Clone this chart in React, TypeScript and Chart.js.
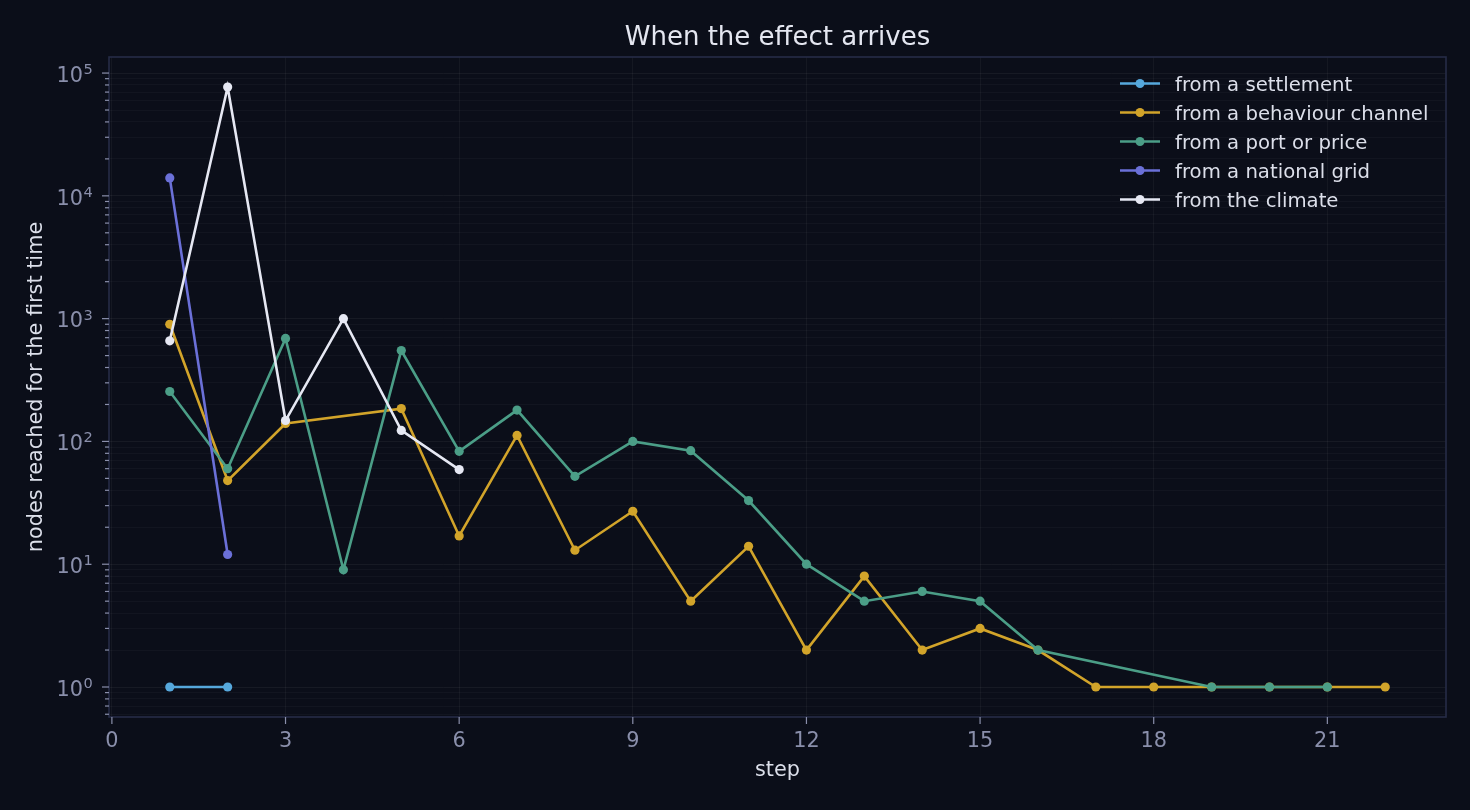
import { useEffect, useRef } from "react";
import { Chart, registerables } from "chart.js";

Chart.register(...registerables);

// series, in draw order (later ones sit on top)
const seriesNames = [
  "from a settlement",
  "from a behaviour channel",
  "from a port or price",
  "from a national grid",
  "from the climate",
];

const settlementSteps = [1, 2];
const settlementNodes = [1, 1];

const behaviourSteps = [1, 2, 3, 5, 6, 7, 8, 9, 10, 11, 12, 13, 14, 15, 16, 17, 18, 19, 20, 21, 22];
const behaviourNodes = [900, 48, 140, 185, 17, 112, 13, 27, 5, 14, 2, 8, 2, 3, 2, 1, 1, 1, 1, 1, 1];

const portSteps = [1, 2, 3, 4, 5, 6, 7, 8, 9, 10, 11, 12, 13, 14, 15, 16, 19, 20, 21];
const portNodes = [255, 60, 690, 9, 550, 83, 180, 52, 100, 84, 33, 10, 5, 6, 5, 2, 1, 1, 1];

const gridSteps = [1, 2];
const gridNodes = [14000, 12];

const climateSteps = [1, 2, 3, 4, 5, 6];
const climateNodes = [660, 77000, 148, 1000, 123, 59];

const xTicks = [0, 3, 6, 9, 12, 15, 18, 21];
const decades = [-1, 0, 1, 2, 3, 4, 5];

const seriesColors = ["#56a8dc", "#d2a42a", "#4b9e87", "#6b70d8", "#e6e8f3"];

const BG = "#0b0e19";
const TICK_COLOR = "#8a8fab";
const LABEL_COLOR = "#dcdfea";
const SPINE_COLOR = "#262c47";
const FONT = "'DejaVu Sans', sans-serif";

function isDecade(v: number) {
  const l = Math.log10(v);
  return Math.abs(l - Math.round(l)) < 1e-9;
}

function toPoints(xs: number[], ys: number[]) {
  return xs.map((x, i) => ({ x, y: ys[i] }));
}

const allSteps = [settlementSteps, behaviourSteps, portSteps, gridSteps, climateSteps];
const allNodes = [settlementNodes, behaviourNodes, portNodes, gridNodes, climateNodes];

// title centred over the plot, legend top-right, frame, tick marks and 10^n labels
const decorations = {
  id: "decorations",
  afterDatasetsDraw(chart: any) {
    const { ctx, chartArea, scales } = chart;
    ctx.save();

    ctx.strokeStyle = SPINE_COLOR;
    ctx.lineWidth = 1.6;
    ctx.strokeRect(chartArea.left, chartArea.top, chartArea.right - chartArea.left, chartArea.bottom - chartArea.top);

    ctx.strokeStyle = TICK_COLOR;
    ctx.lineWidth = 1.2;
    ctx.fillStyle = TICK_COLOR;
    scales.y.ticks.forEach((t: any) => {
      const py = scales.y.getPixelForValue(t.value);
      if (py < chartArea.top - 0.5 || py > chartArea.bottom + 0.5) return;
      const major = isDecade(t.value);
      const len = major ? 7 : 4;
      ctx.beginPath();
      ctx.moveTo(chartArea.left - len, py);
      ctx.lineTo(chartArea.left, py);
      ctx.stroke();
      if (major) {
        const exp = String(Math.round(Math.log10(t.value)));
        const expX = chartArea.left - 25.5;
        ctx.textBaseline = "alphabetic";
        ctx.textAlign = "right";
        ctx.font = `20.8px ${FONT}`;
        ctx.fillText("10", expX - 0.5, py + 8.7);
        ctx.textAlign = "left";
        ctx.font = `14.6px ${FONT}`;
        ctx.fillText(exp, expX, py + 1);
      }
    });
    scales.x.ticks.forEach((t: any) => {
      const px = scales.x.getPixelForValue(t.value);
      ctx.beginPath();
      ctx.moveTo(px, chartArea.bottom);
      ctx.lineTo(px, chartArea.bottom + 7);
      ctx.stroke();
    });

    ctx.fillStyle = "#e4e6f0";
    ctx.font = `26px ${FONT}`;
    ctx.textAlign = "center";
    ctx.textBaseline = "alphabetic";
    ctx.fillText("When the effect arrives", (chartArea.left + chartArea.right) / 2, 45);

    const x0 = chartArea.right - 326;
    ctx.font = `19.7px ${FONT}`;
    ctx.textAlign = "left";
    chart.data.datasets.forEach((ds: any, i: number) => {
      const y = chartArea.top + 26.5 + i * 29;
      ctx.strokeStyle = ds.borderColor;
      ctx.lineWidth = 2.6;
      ctx.beginPath();
      ctx.moveTo(x0, y);
      ctx.lineTo(x0 + 40, y);
      ctx.stroke();
      ctx.fillStyle = ds.borderColor;
      ctx.beginPath();
      ctx.arc(x0 + 20, y, 4.5, 0, Math.PI * 2);
      ctx.fill();
      ctx.fillStyle = LABEL_COLOR;
      ctx.fillText(ds.label, x0 + 55, y + 7.5);
    });

    ctx.restore();
  },
};

export default function App() {
  const canvasRef = useRef<HTMLCanvasElement>(null);
  const chartRef = useRef<Chart | null>(null);

  useEffect(() => {
    document.body.style.margin = "0";
    document.body.style.background = BG;
    if (!canvasRef.current) return;
    if (chartRef.current) chartRef.current.destroy();

    const datasets = seriesNames.map((name, i) => ({
      label: name,
      data: toPoints(allSteps[i], allNodes[i]),
      borderColor: seriesColors[i],
      backgroundColor: seriesColors[i],
      showLine: true,
      borderWidth: 2.6,
      pointRadius: 4.6,
      pointBorderWidth: 0,
      pointHoverRadius: 4.6,
      tension: 0,
      order: seriesNames.length - i,
    }));

    const logMax = Math.log10(Math.max(...allNodes.flat()));
    const logMin = 0;
    const pad = (logMax - logMin) * 0.05;

    chartRef.current = new Chart(canvasRef.current, {
      type: "scatter",
      data: { datasets },
      plugins: [decorations],
      options: {
        responsive: false,
        animation: false,
        devicePixelRatio: 1,
        layout: { padding: { top: 57, right: 24, left: 0, bottom: 0 } },
        plugins: {
          legend: { display: false },
          title: { display: false },
          tooltip: { enabled: false },
        },
        scales: {
          x: {
            type: "linear",
            min: -0.05,
            max: 23.05,
            afterBuildTicks: (scale: any) => {
              scale.ticks = xTicks.map((v) => ({ value: v }));
            },
            afterFit: (scale: any) => {
              scale.height = 93;
            },
            ticks: {
              color: TICK_COLOR,
              padding: 12,
              font: { family: FONT, size: 20.8 },
              callback: (v: any) => String(v),
            },
            grid: {
              color: "rgba(255,255,255,0.045)",
              lineWidth: 1,
              drawTicks: false,
            },
            border: { display: false },
            title: {
              display: true,
              text: "step",
              color: LABEL_COLOR,
              font: { family: FONT, size: 20.8 },
              padding: { top: 0, bottom: 26.5 },
            },
          },
          y: {
            type: "logarithmic",
            min: Math.pow(10, logMin - pad),
            max: Math.pow(10, logMax + pad),
            afterBuildTicks: (scale: any) => {
              const ticks: { value: number }[] = [];
              decades.forEach((d) => {
                for (let m = 1; m <= 9; m++) {
                  const v = m * Math.pow(10, d);
                  if (v >= scale.min && v <= scale.max) ticks.push({ value: v });
                }
              });
              scale.ticks = ticks;
            },
            afterFit: (scale: any) => {
              scale.width = 109;
            },
            ticks: { display: false, autoSkip: false },
            grid: {
              color: (c: any) =>
                c.tick && isDecade(c.tick.value) ? "rgba(255,255,255,0.05)" : "rgba(255,255,255,0.03)",
              lineWidth: 1,
              drawTicks: false,
            },
            border: { display: false },
            title: {
              display: true,
              text: "nodes reached for the first time",
              color: LABEL_COLOR,
              font: { family: FONT, size: 20.8 },
              padding: { top: 24.5, bottom: 0 },
            },
          },
        },
      },
    });

    return () => {
      if (chartRef.current) {
        chartRef.current.destroy();
        chartRef.current = null;
      }
    };
  }, []);

  return (
    <div style={{ width: 1470, height: 810, background: BG }}>
      <canvas ref={canvasRef} width={1470} height={810}></canvas>
    </div>
  );
}
